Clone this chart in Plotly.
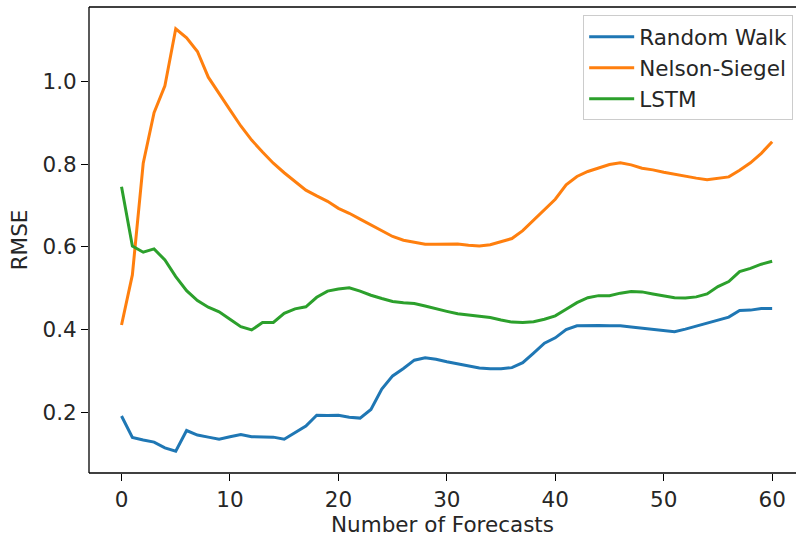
import plotly.graph_objects as go

# Forecast horizon (number of forecasts)
horizon = list(range(61))

# RMSE per horizon for each model
rmse_random_walk = [
    0.191, 0.139, 0.133, 0.128, 0.114, 0.106, 0.156, 0.145, 0.140, 0.135,
    0.141, 0.146, 0.141, 0.140, 0.140, 0.135, 0.152, 0.167, 0.193, 0.192,
    0.193, 0.188, 0.186, 0.207, 0.256, 0.288, 0.306, 0.326, 0.332, 0.328,
    0.322, 0.317, 0.313, 0.307, 0.305, 0.305, 0.308, 0.320, 0.343, 0.367,
    0.380, 0.400, 0.409, 0.410, 0.410, 0.409, 0.409, 0.406, 0.403, 0.401,
    0.398, 0.395, 0.401, 0.408, 0.415, 0.423, 0.430, 0.446, 0.447, 0.451,
    0.451,
]
rmse_nelson_siegel = [
    0.411, 0.532, 0.802, 0.924, 0.989, 1.127, 1.105, 1.072, 1.010, 0.969,
    0.931, 0.892, 0.858, 0.829, 0.802, 0.779, 0.757, 0.737, 0.723, 0.710,
    0.693, 0.681, 0.667, 0.653, 0.639, 0.625, 0.616, 0.611, 0.606, 0.606,
    0.606, 0.607, 0.604, 0.602, 0.605, 0.612, 0.620, 0.639, 0.665, 0.691,
    0.715, 0.750, 0.770, 0.782, 0.791, 0.799, 0.803, 0.798, 0.790, 0.786,
    0.780, 0.775, 0.771, 0.766, 0.762, 0.765, 0.769, 0.785, 0.803, 0.826,
    0.854,
]
rmse_lstm = [
    0.745, 0.602, 0.587, 0.595, 0.568, 0.528, 0.494, 0.470, 0.454, 0.443,
    0.425, 0.407, 0.399, 0.417, 0.417, 0.439, 0.450, 0.455, 0.478, 0.493,
    0.498, 0.501, 0.493, 0.483, 0.475, 0.468, 0.465, 0.463, 0.457, 0.450,
    0.444, 0.438, 0.435, 0.433, 0.429, 0.423, 0.418, 0.417, 0.419, 0.425,
    0.433, 0.449, 0.465, 0.477, 0.482, 0.482, 0.488, 0.492, 0.491, 0.486,
    0.481, 0.477, 0.476, 0.479, 0.486, 0.504, 0.516, 0.540, 0.548, 0.558,
    0.565,
]

series = [
    ("Random Walk", rmse_random_walk, "#1f77b4"),
    ("Nelson-Siegel", rmse_nelson_siegel, "#ff7f0e"),
    ("LSTM", rmse_lstm, "#2ca02c"),
]

font_family = "DejaVu Sans, sans-serif"
font_size = 21.5
text_color = "#262626"

fig = go.Figure()
for name, values, color in series:
    fig.add_trace(go.Scatter(
        x=horizon, y=values, name=name, mode="lines",
        line=dict(color=color, width=3),
    ))

axis_common = dict(
    showgrid=False, zeroline=False, showline=False,
    ticks="outside", ticklen=7, tickwidth=1.3, tickcolor="black",
    tickfont=dict(family=font_family, size=font_size, color=text_color),
)

# Axes frame: left, bottom and top spines (right edge runs off the canvas)
spine = dict(type="line", xref="paper", yref="paper",
             line=dict(color="black", width=1.3), layer="above")
shapes = [
    dict(spine, x0=0, x1=0, y0=0, y1=1),
    dict(spine, x0=0, x1=1, y0=0, y1=0),
    dict(spine, x0=0, x1=1, y0=1, y1=1),
]

fig.update_layout(
    width=796, height=540,
    margin=dict(l=89, r=0, t=7, b=67),
    paper_bgcolor="white", plot_bgcolor="white",
    font=dict(family=font_family, size=font_size, color=text_color),
    showlegend=True,
    shapes=shapes,
    legend=dict(
        x=0.996, y=0.982, xanchor="right", yanchor="top",
        bgcolor="rgba(255,255,255,0.8)", bordercolor="#cccccc", borderwidth=1,
        font=dict(family=font_family, size=font_size, color=text_color),
        itemwidth=45, tracegroupgap=0,
    ),
    xaxis=dict(
        **axis_common,
        range=[-3, 62.2],
        tickvals=[0, 10, 20, 30, 40, 50, 60],
        title=dict(text="Number of Forecasts", standoff=6,
                   font=dict(family=font_family, size=font_size, color=text_color)),
    ),
    yaxis=dict(
        **axis_common,
        range=[0.0533, 1.1796],
        tickvals=[0.2, 0.4, 0.6, 0.8, 1.0],
        ticktext=["0.2", "0.4", "0.6", "0.8", "1.0"],
        title=dict(text="RMSE", standoff=8,
                   font=dict(family=font_family, size=font_size, color=text_color)),
    ),
)

fig.write_html("out.html")
